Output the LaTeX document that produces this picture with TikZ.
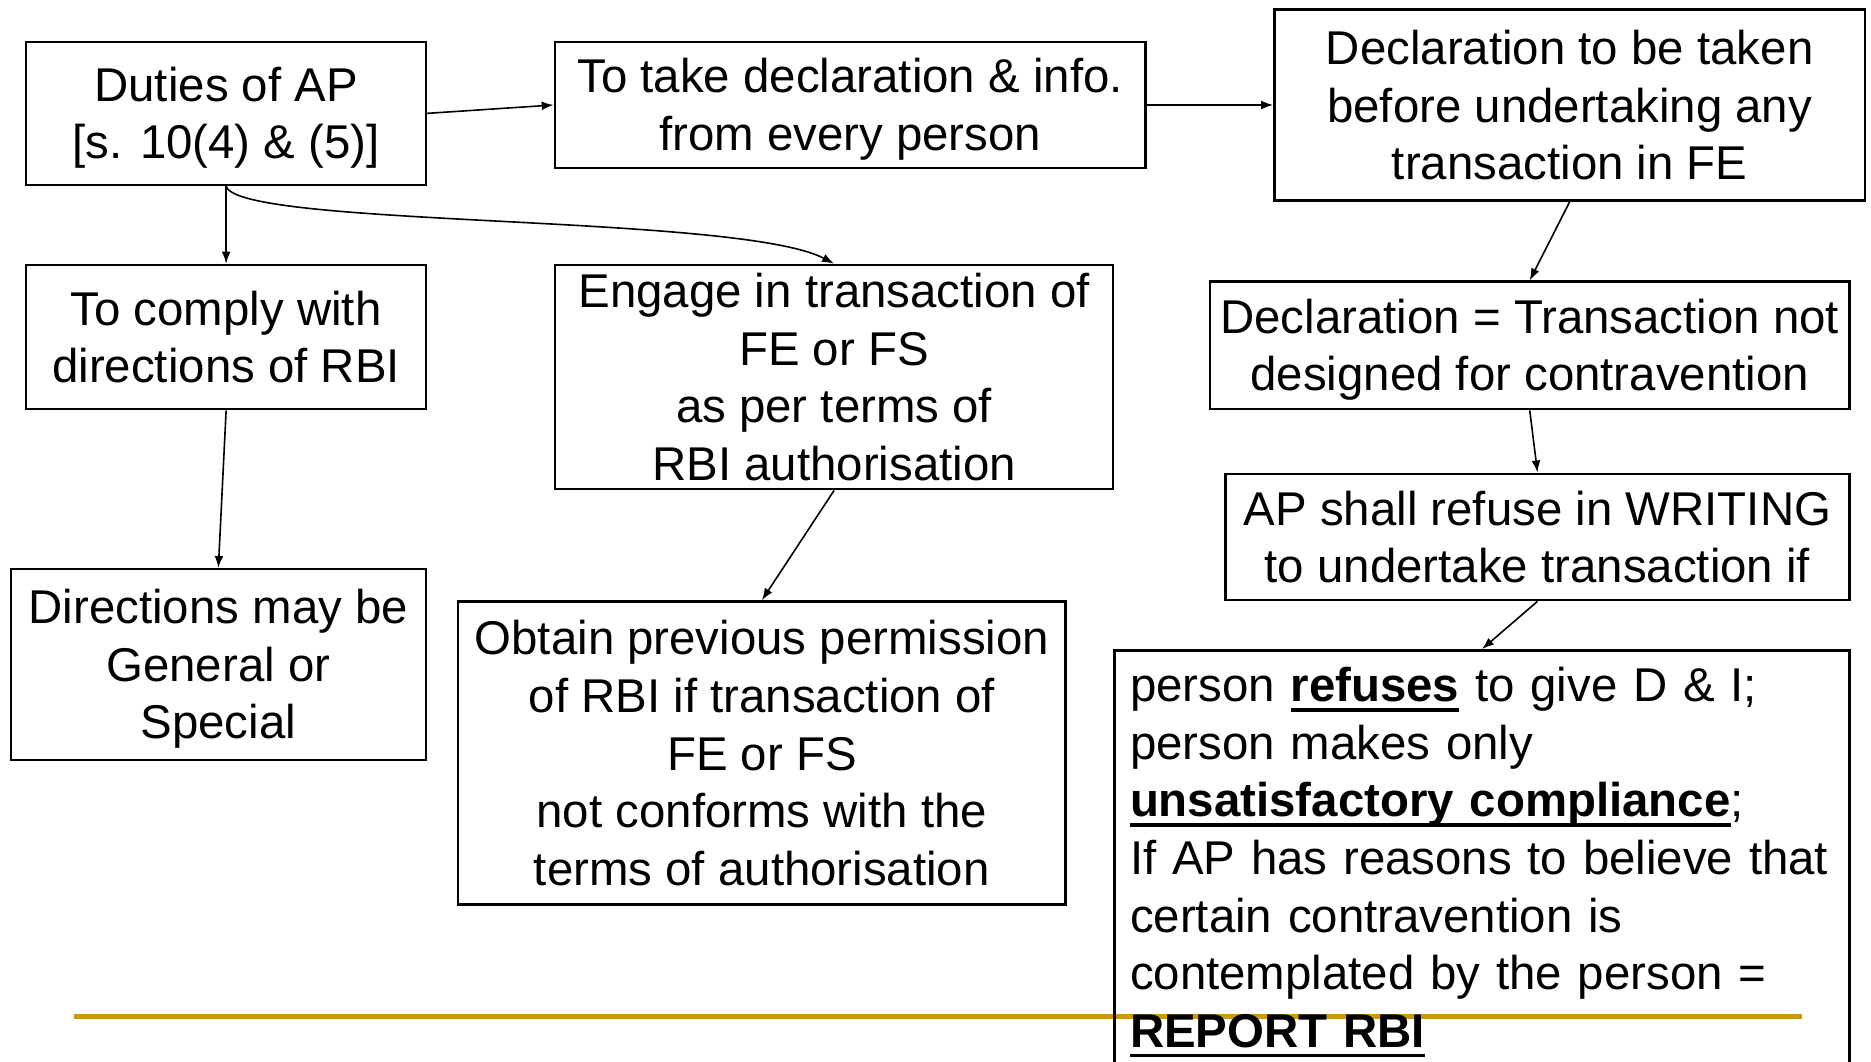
\documentclass[tikz,border=0pt]{standalone}
\usepackage{fontspec}
\setmainfont{Liberation Sans}
\usetikzlibrary{arrows.meta}
\tikzset{>={Latex[length=6pt,width=4.4pt]}}
\definecolor{rulegold}{RGB}{204,153,0}
\newcommand{\bul}[1]{\leavevmode\setbox0=\hbox{\bfseries #1}\rlap{\usebox0}\rule[-5pt]{\wd0}{1.8pt}}
\newcommand{\st}{\rule[-4.35pt]{0pt}{25.8pt}}

\begin{document}
\begin{tikzpicture}[x=0.5966pt, y=-0.5966pt,
                box/.style={draw, line width=1.2pt, inner sep=0pt, align=center,
                    font=\fontsize{23.7pt}{28.8pt}\selectfont},
                link/.style={->, line width=0.8pt}]
                \useasboundingbox (0,0) rectangle (1568,890);
                \clip (0,0) rectangle (1568,890);

                % footer rule
                \draw[rulegold, line width=2.2pt] (62,852) -- (1510,852);

                % boxes
                \node[box, minimum width=199.9pt, minimum height=71.6pt] (duties) at (189.5,95) {\st Duties of AP\\{}[s. 10(4) \& (5)]\st};
                \node[box, minimum width=295.3pt, minimum height=63.2pt] (take) at (712.5,88) {\st To take declaration \& info.\\ from every person\st};
                \node[box, minimum width=295.3pt, minimum height=95.5pt] (decl) at (1315.5,88) {\st Declaration to be taken\\ before undertaking any\\ transaction in FE\st};
                \node[box, minimum width=199.9pt, minimum height=72.2pt] (comply) at (189.5,282.5) {\st To comply with\\ directions of RBI\st};
                \node[box, minimum width=279.2pt, minimum height=112.2pt] (engage) at (699,316) {\st Engage in transaction of\\ FE or FS\\ as per terms of\\ RBI authorisation\st};
                \node[box, minimum width=319.8pt, minimum height=63.8pt] (declq) at (1282,289.5) {\st Declaration = Transaction not\\ designed for contravention\st};
                \node[box, minimum width=207.6pt, minimum height=95.5pt] (dirs) at (183,557) {\st Directions may be\\ General or\\ Special\st};
                \node[box, minimum width=303.7pt, minimum height=151.5pt] (obtain) at (638.5,631) {\st Obtain previous permission\\ of RBI if transaction of\\ FE or FS\\ not conforms with the\\ terms of authorisation\st};
                \node[box, minimum width=312pt, minimum height=63.2pt] (refuse) at (1288.5,450) {\st AP shall refuse in WRITING\\ to undertake transaction if\st};
                \node[box, anchor=north, align=left, text width=352pt, inner xsep=7.75pt, inner ysep=4.25pt] (report) at (1242,544)
                    {\st person \bul{refuses} to give D \& I;\\
                     person makes only\\
                     \bul{unsatisfactory compliance};\\
                     If AP has reasons to believe that\\
                     certain contravention is\\
                     contemplated by the person =\\
                     \bul{REPORT RBI}\rule[-40pt]{0pt}{1pt}};

                % arrows
                \draw[link] (duties.east) -- (take.west);
                \draw[link] (take.east) -- (decl.west);
                \draw[link] (duties.south) -- (comply.north);
                \draw[link] (duties.south) .. controls +(10,35) and +(-80,-42) .. (engage.north);
                \draw[link] (comply.south) -- (dirs.north);
                \draw[link] (engage.south) -- (obtain.north);
                \draw[link] (decl.south) -- (declq.north);
                \draw[link] (declq.south) -- (refuse.north);
                \draw[link] (refuse.south) -- (report.north);
\end{tikzpicture}
\end{document}
